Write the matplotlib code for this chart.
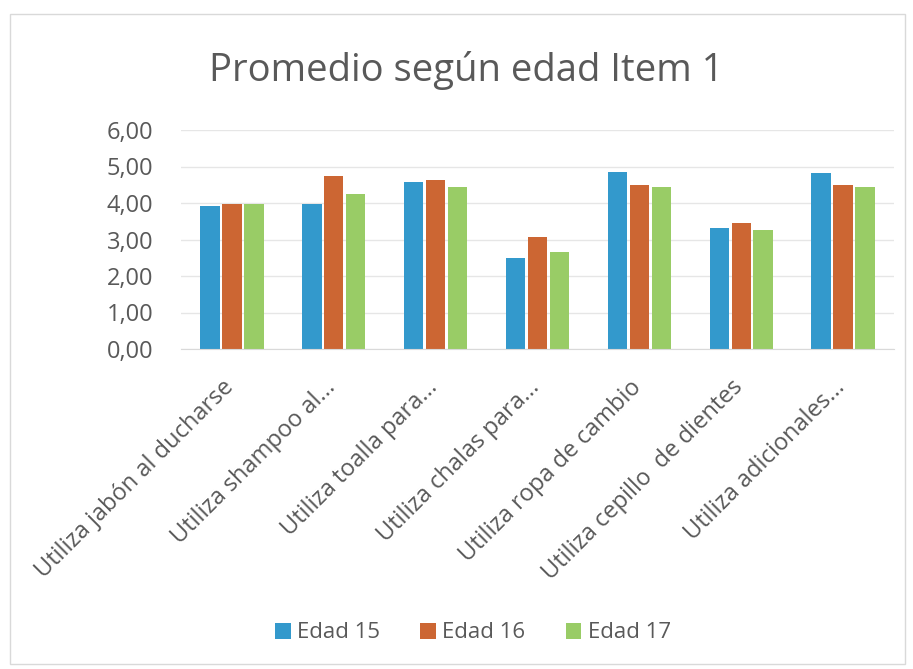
import matplotlib
matplotlib.use("Agg")
import matplotlib.pyplot as plt
import numpy as np
from matplotlib.patches import Rectangle
from matplotlib.transforms import ScaledTranslation

categories = ["Utiliza jabón al ducharse", "Utiliza shampoo al...", "Utiliza toalla para...",
              "Utiliza chalas para...", "Utiliza ropa de cambio", "Utiliza cepillo  de dientes",
              "Utiliza adicionales..."]
series_names = ["Edad 15", "Edad 16", "Edad 17"]
edad15 = [3.91, 3.97, 4.57, 2.50, 4.86, 3.32, 4.81]
edad16 = [3.97, 4.74, 4.62, 3.08, 4.50, 3.44, 4.50]
edad17 = [3.97, 4.26, 4.45, 2.67, 4.45, 3.27, 4.45]
yticks = [0, 1, 2, 3, 4, 5, 6]
ytick_labels = ["0,00", "1,00", "2,00", "3,00", "4,00", "5,00", "6,00"]

colors = ["#3399CC", "#CC6633", "#99CC66"]
text_color = "#595959"
plt.rcParams['font.family'] = ['Open Sans', 'DejaVu Sans']

fig = plt.figure(figsize=(9.13, 6.69), dpi=100)
fig.patches.append(Rectangle((10/913, 1-664/669), 895/913, 650/669, transform=fig.transFigure,
                             fill=False, edgecolor="#D9D9D9", linewidth=1))
ax = fig.add_axes([181/913, 1-349/669, 713/913, 219/669])

x = np.arange(len(categories))
w = 0.19
off = 0.215
for i, (vals, name) in enumerate(zip([edad15, edad16, edad17], series_names)):
    ax.bar(x + (i-1)*off, vals, width=w, color=colors[i], label=name, zorder=3)

ax.set_xlim(-0.5, len(categories)-0.5)
ax.set_ylim(0, 6)
ax.grid(axis="y", color="#E6E6E6", linewidth=1, zorder=0)
ax.set_yticks(yticks)
ax.set_yticklabels(ytick_labels, fontsize=17, color=text_color)
ax.set_xticks(x)
ax.set_xticklabels(categories, rotation=45, ha="right", va="top", rotation_mode="anchor",
                   fontsize=17, color=text_color)
ax.tick_params(axis="y", length=0, pad=20)
ax.tick_params(axis="x", length=0, pad=19)
shift = ScaledTranslation(-10/100, 0, fig.dpi_scale_trans)
for lbl in ax.get_xticklabels():
    lbl.set_transform(lbl.get_transform() + shift)
for s in ["top", "right", "left"]:
    ax.spines[s].set_visible(False)
ax.spines["bottom"].set_color("#D9D9D9")
ax.spines["bottom"].set_zorder(4)

fig.text(0.511, 1-70/669, "Promedio según edad Item 1", ha="center", va="center",
         fontsize=27.5, color=text_color)

handles, labels = ax.get_legend_handles_labels()
fig.legend(handles, labels, loc="center", bbox_to_anchor=(0.518, 1-633/669), ncol=3,
           frameon=False, fontsize=16, labelcolor=text_color, handlelength=0.7,
           handleheight=0.7, handletextpad=0.3, columnspacing=1.8)

fig.savefig("out.png", dpi=100)
